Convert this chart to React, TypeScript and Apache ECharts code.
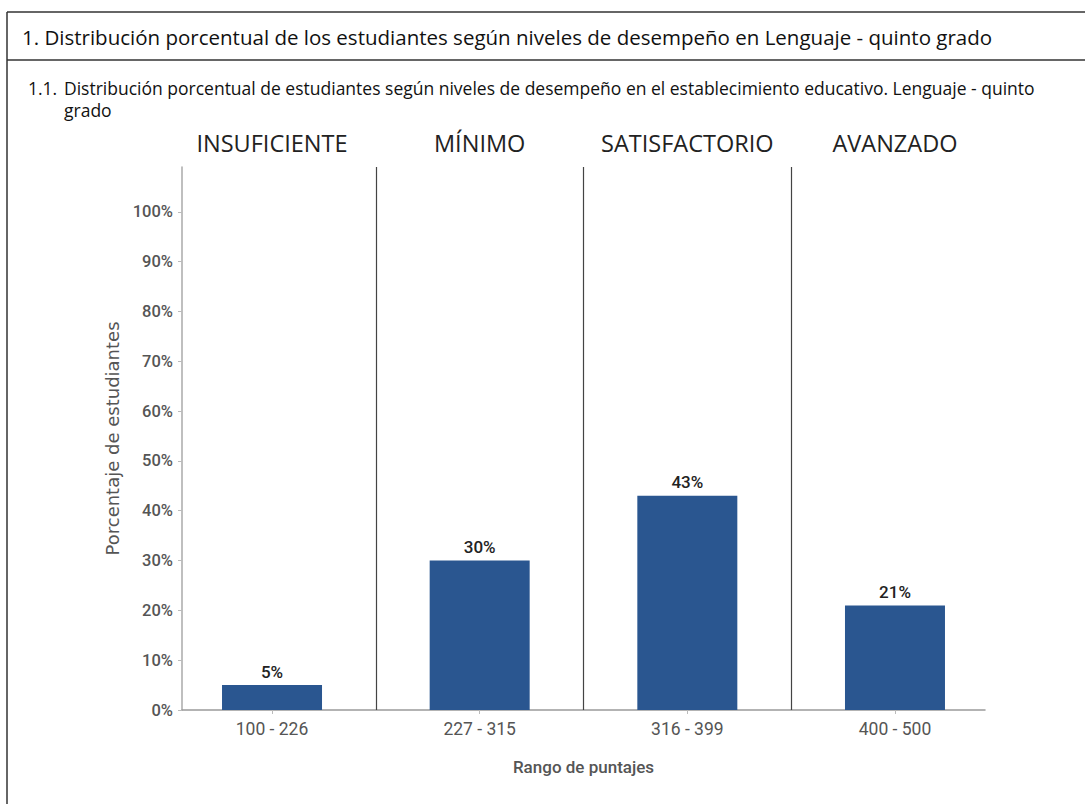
import React, { useEffect, useRef } from "react";
import * as echarts from "echarts";

const levels = ["INSUFICIENTE", "MÍNIMO", "SATISFACTORIO", "AVANZADO"];
const ranges = ["100 - 226", "227 - 315", "316 - 399", "400 - 500"];
const values = [5, 30, 43, 21];
const yTicks = [0, 10, 20, 30, 40, 50, 60, 70, 80, 90, 100];
const mainTitle =
  "1. Distribución porcentual de los estudiantes según niveles de desempeño en Lenguaje - quinto grado";
const subNumber = "1.1.";
const subTitleLine1 =
  "Distribución porcentual de estudiantes según niveles de desempeño en el establecimiento educativo. Lenguaje - quinto";
const subTitleLine2 = "grado";

const COND = "Roboto, sans-serif";
const OPEN = "'Open Sans', sans-serif";

export default function App() {
  const ref = useRef<HTMLDivElement>(null);
  useEffect(() => {
    if (!ref.current) return;
    const chart = echarts.init(ref.current, null, { renderer: "svg" });
    const idx = levels.map((_, i) => i);
    const xMin = -0.4335;
    const xMax = levels.length - 1 + 0.4335;
    const subStyle = { fontFamily: OPEN, fontSize: 17.5, fontWeight: "normal", color: "#111" };
    chart.setOption({
      animation: false,
      backgroundColor: "#fff",
      title: [
        {
          text: mainTitle,
          left: 22,
          top: 26,
          padding: 0,
          textStyle: { fontFamily: OPEN, fontSize: 20.5, fontWeight: "normal", color: "#111" },
        },
        { text: subNumber, left: 28, top: 79, padding: 0, textStyle: subStyle },
        { text: subTitleLine1, left: 64, top: 79, padding: 0, textStyle: subStyle },
        { text: subTitleLine2, left: 64, top: 101, padding: 0, textStyle: subStyle },
      ],
      graphic: [
        { type: "line", shape: { x1: 7, y1: 12, x2: 1085, y2: 12 }, style: { stroke: "#333", lineWidth: 1.5 } },
        { type: "line", shape: { x1: 7, y1: 60, x2: 1085, y2: 60 }, style: { stroke: "#333", lineWidth: 1.5 } },
        { type: "line", shape: { x1: 7, y1: 12, x2: 7, y2: 804 }, style: { stroke: "#333", lineWidth: 1.5 } },
      ],
      grid: { left: 182, top: 167, width: 803, height: 543, containLabel: false },
      xAxis: [
        {
          type: "value",
          min: xMin,
          max: xMax,
          position: "bottom",
          splitLine: { show: false },
          axisLine: { show: true, onZero: false, lineStyle: { color: "#9a9a9a", width: 1.5 } },
          axisTick: { show: true, customValues: idx, length: 4, lineStyle: { color: "#bbb" } },
          axisLabel: {
            customValues: idx,
            formatter: (v: number) => ranges[Math.round(v)],
            fontFamily: COND,
            fontSize: 17.5,
            color: "#555",
            margin: 10,
          },
          name: "Rango de puntajes",
          nameLocation: "middle",
          nameGap: 48,
          nameTextStyle: { fontFamily: COND, fontSize: 17, color: "#555", fontWeight: 500 },
        },
        {
          type: "value",
          min: xMin,
          max: xMax,
          position: "top",
          splitLine: { show: false },
          axisLine: { show: false, onZero: false },
          axisTick: { show: false },
          axisLabel: {
            customValues: idx,
            formatter: (v: number) => levels[Math.round(v)],
            fontFamily: OPEN,
            fontSize: 23.5,
            color: "#222",
            margin: 12,
          },
        },
      ],
      yAxis: {
        type: "value",
        min: 0,
        max: 109,
        splitLine: { show: false },
        axisLine: { show: true, onZero: false, lineStyle: { color: "#aaa", width: 1.5 } },
        axisTick: { show: true, customValues: yTicks, length: 4, lineStyle: { color: "#bbb" } },
        axisLabel: {
          customValues: yTicks,
          formatter: "{value}%",
          fontFamily: COND,
          fontSize: 16.5,
          fontWeight: 500,
          color: "#555",
          margin: 9,
        },
        name: "Porcentaje de estudiantes",
        nameLocation: "middle",
        nameGap: 56,
        nameTextStyle: { fontFamily: "'DejaVu Sans', sans-serif", fontSize: 18, color: "#555" },
      },
      series: [
        {
          type: "bar",
          xAxisIndex: 0,
          data: values.map((v, i) => [i, v]),
          barWidth: 100,
          itemStyle: { color: "#2a5690" },
          label: {
            show: true,
            position: "top",
            distance: 5,
            formatter: (p: any) => p.value[1] + "%",
            fontFamily: COND,
            fontSize: 17,
            fontWeight: 500,
            color: "#222",
          },
          markLine: {
            silent: true,
            symbol: "none",
            label: { show: false },
            lineStyle: { color: "#444", width: 1.2, type: "solid" },
            data: idx.slice(0, -1).map((i) => ({ xAxis: i + 0.5 })),
          },
        },
      ],
    });
    return () => chart.dispose();
  }, []);
  return (
    <div
      ref={ref}
      style={{ position: "absolute", left: 0, top: 0, width: 1085, height: 804 }}
    />
  );
}
